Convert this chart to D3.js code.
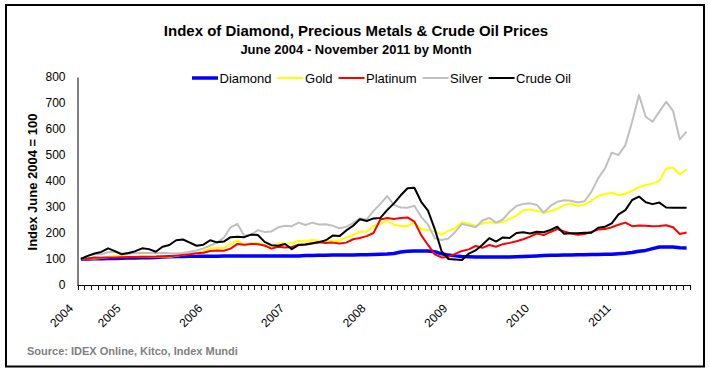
<!DOCTYPE html>
<html>

<head>
    <meta charset="utf-8">
    <title>Index of Diamond, Precious Metals & Crude Oil Prices</title>
    <script src="https://d3js.org/d3.v7.min.js" charset="utf-8"></script>
</head>

<body>
    <style>
        html,
        body {
            margin: 0;
            padding: 0;
            background: #fff;
        }

        svg text {
            font-family: "Liberation Sans", Arial, sans-serif;
        }
    </style>

    <div id="chart-container"></div>

    <script>
        // Months June 2004 - November 2011 (90 categories)
        const months = d3.timeMonth.range(new Date(2004, 5, 1), new Date(2011, 11, 1));

        // Index values, June 2004 = 100
        const diamond = [
            100, 100, 101, 101, 102, 102, 103,
            104, 104, 105, 105, 106, 108, 109, 110, 110, 111, 111, 111,
            111, 111, 112, 112, 112, 112, 112, 112, 112, 112, 112, 112,
            112, 112, 113, 113, 114, 114, 115, 115, 115, 115, 116, 116,
            117, 118, 119, 121, 127, 130, 131, 131, 131, 128, 120, 115,
            112, 110, 109, 108, 108, 108, 108, 108, 108, 109, 110, 111,
            112, 113, 114, 114, 115, 115, 116, 116, 117, 117, 118, 118,
            120, 122, 125, 130, 133, 140, 146, 146, 146, 143, 142
        ];
        const gold = [
            100, 102, 102, 104, 107, 112, 113,
            108, 108, 111, 109, 108, 110, 108, 112, 116, 120, 121, 130,
            140, 142, 142, 156, 172, 152, 161, 161, 153, 149, 160, 160,
            161, 170, 167, 173, 170, 167, 170, 170, 182, 192, 206, 205,
            227, 235, 247, 232, 227, 227, 240, 214, 212, 206, 194, 208,
            219, 241, 236, 227, 237, 241, 238, 242, 254, 266, 287, 290,
            285, 279, 284, 293, 307, 314, 304, 310, 324, 342, 349, 355,
            346, 350, 363, 376, 385, 390, 401, 448, 452, 425, 444
        ];
        const platinum = [
            100, 101, 106, 105, 106, 106, 107,
            108, 108, 109, 109, 109, 110, 110, 113, 116, 118, 122, 124,
            131, 133, 132, 140, 158, 155, 158, 157, 152, 140, 147, 144,
            146, 155, 156, 162, 164, 162, 163, 160, 163, 176, 181, 188,
            200, 252, 258, 254, 258, 260, 244, 192, 154, 118, 106, 108,
            120, 131, 137, 150, 143, 154, 147, 157, 162, 168, 176, 186,
            198, 192, 204, 215, 206, 198, 193, 196, 204, 213, 215, 222,
            232, 240, 226, 229, 228, 226, 227, 230, 222, 196, 202
        ];
        const silver = [
            100, 112, 118, 118, 126, 128, 122,
            120, 122, 124, 123, 122, 124, 122, 121, 123, 128, 133, 141,
            152, 163, 182, 222, 235, 189, 193, 211, 204, 206, 222, 228,
            226, 240, 231, 240, 233, 234, 228, 218, 224, 238, 256, 252,
            285, 312, 342, 308, 298, 297, 305, 262, 232, 180, 173, 179,
            204, 235, 229, 222, 248, 258, 240, 252, 282, 304, 312, 314,
            308, 278, 304, 320, 326, 324, 317, 322, 358, 410, 448, 509,
            500, 538, 628, 731, 647, 628, 667, 705, 670, 560, 590
        ];
        const crude = [
            100, 112, 121, 127, 141, 130, 118,
            123, 130, 141, 138, 128, 147, 154, 172, 175, 163, 151, 155,
            172, 164, 167, 184, 186, 184, 194, 192, 166, 153, 151, 158,
            138, 154, 156, 160, 165, 172, 190, 188, 210, 228, 253, 246,
            256, 258, 288, 314, 345, 372, 374, 320, 286, 215, 130, 100,
            98, 96, 121, 133, 155, 180, 167, 183, 181, 200, 203, 198,
            205, 203, 212, 224, 197, 199, 199, 201, 201, 220, 224, 237,
            272, 288, 327, 340, 318, 311, 317, 298, 297, 297, 297
        ];

        const seriesNames = ["Diamond", "Gold", "Platinum", "Silver", "Crude Oil"];
        const seriesColors = ["#0000FF", "#FFFF00", "#FF0000", "#C0C0C0", "#000000"];
        const seriesWidths = [3.5, 2, 2, 2, 2];
        const seriesValues = [diamond, gold, platinum, silver, crude];

        const yTicks = [0, 100, 200, 300, 400, 500, 600, 700, 800];

        // Setting up dimensions
        const width = 710;
        const height = 373;
        const plotLeft = 77.5;
        const plotRight = 690;
        const plotTop = 77;
        const plotBottom = 285;

        const svg = d3.select("#chart-container").append("svg")
            .attr("width", width)
            .attr("height", height);

        // Outer chart border
        svg.append("rect")
            .attr("x", 6)
            .attr("y", 5)
            .attr("width", 698)
            .attr("height", 361.5)
            .attr("fill", "#fff")
            .attr("stroke", "#000")
            .attr("stroke-width", 2);

        // Scales
        const x = d3.scaleBand()
            .domain(d3.range(months.length))
            .range([plotLeft, plotRight]);
        const xMid = i => x(i) + x.bandwidth() / 2;

        const y = d3.scaleLinear()
            .domain([0, 800])
            .range([plotBottom, plotTop]);

        // Titles
        svg.append("text")
            .attr("x", 356)
            .attr("y", 36)
            .attr("text-anchor", "middle")
            .attr("font-weight", "bold")
            .attr("font-size", 15)
            .text("Index of Diamond, Precious Metals & Crude Oil Prices");

        svg.append("text")
            .attr("x", 356)
            .attr("y", 54)
            .attr("text-anchor", "middle")
            .attr("font-weight", "bold")
            .attr("font-size", 13)
            .text("June 2004 - November 2011 by Month");

        // Y axis
        const yAxis = svg.append("g")
            .attr("transform", `translate(${plotLeft},0)`)
            .call(d3.axisLeft(y).tickValues(yTicks).tickSize(0).tickPadding(12));
        yAxis.select(".domain").attr("stroke", "#000").attr("stroke-width", 1);
        yAxis.selectAll("text")
            .attr("font-size", 12)
            .attr("font-family", "Liberation Sans, Arial, sans-serif")
            .attr("fill", "#000");

        svg.append("text")
            .attr("transform", "translate(37,182) rotate(-90)")
            .attr("text-anchor", "middle")
            .attr("font-weight", "bold")
            .attr("font-size", 13)
            .text("Index June 2004 = 100");

        // X axis: line, tick marks on every month boundary, year labels
        svg.append("line")
            .attr("x1", plotLeft).attr("x2", plotRight)
            .attr("y1", plotBottom + 0.5).attr("y2", plotBottom + 0.5)
            .attr("stroke", "#000");

        const tickPos = d3.range(months.length).map(i => x(i)).concat([plotRight]);
        svg.append("g").selectAll("line")
            .data(tickPos)
            .enter().append("line")
            .attr("x1", d => Math.round(d) + 0.5)
            .attr("x2", d => Math.round(d) + 0.5)
            .attr("y1", plotBottom)
            .attr("y2", plotBottom + 5)
            .attr("stroke", "#000");

        const yearIdx = d3.range(months.length).filter(i => i === 0 || months[i].getMonth() === 0);
        svg.append("g").selectAll("text")
            .data(yearIdx)
            .enter().append("text")
            .attr("transform", i => `translate(${xMid(i) - 7},${plotBottom + 24}) rotate(-45)`)
            .attr("text-anchor", "end")
            .attr("font-size", 12)
            .text(i => months[i].getFullYear());

        // Lines
        const line = d3.line()
            .x((d, i) => xMid(i))
            .y(d => y(d));

        svg.append("g").selectAll("path")
            .data(seriesValues)
            .enter().append("path")
            .attr("d", line)
            .attr("fill", "none")
            .attr("stroke", (d, i) => seriesColors[i])
            .attr("stroke-width", (d, i) => seriesWidths[i])
            .attr("stroke-linejoin", "round");

        // Legend
        const legend = svg.append("g");
        let lx = 192;
        seriesNames.forEach(function (name, i) {
            legend.append("line")
                .attr("x1", lx).attr("x2", lx + 26)
                .attr("y1", 78).attr("y2", 78)
                .attr("stroke", seriesColors[i])
                .attr("stroke-width", seriesWidths[i]);
            const t = legend.append("text")
                .attr("x", lx + 27.5)
                .attr("y", 82.5)
                .attr("font-size", 13)
                .text(name);
            lx += 27.5 + t.node().getComputedTextLength() + 6;
        });

        // Source note
        svg.append("text")
            .attr("x", 27)
            .attr("y", 355)
            .attr("font-weight", "bold")
            .attr("font-size", 11)
            .attr("fill", "#808080")
            .text("Source: IDEX Online, Kitco, Index Mundi");
    </script>
</body>

</html>
